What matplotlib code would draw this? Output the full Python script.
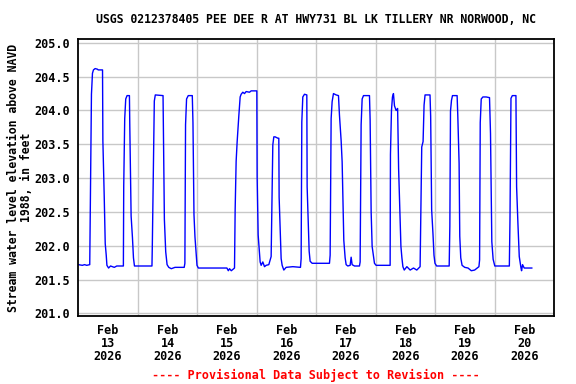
import matplotlib
matplotlib.use("Agg")
import matplotlib.pyplot as plt

# Hours since Feb 13 2026 00:00 and stream water level (ft)
hours = [0, 1.63, 2.5, 3.39, 4.6, 4.75, 5.29, 5.70, 6.10, 6.78, 7.73, 8.0, 9.76, 9.90,
         10.44, 10.85, 11.25, 11.53, 12.2, 13.0, 14.5, 15.5, 17.0, 18.17, 18.31, 18.71,
         19.12, 19.66, 20.61, 20.75, 21.29, 21.83, 22.24, 22.64, 29.7, 29.84, 30.24,
         30.65, 31.05, 34.17, 34.31, 34.71, 35.25, 35.8, 36.48, 37.5, 39, 42.71, 42.98,
         43.25, 43.66, 44.34, 45.97, 46.24, 46.65, 47.05, 47.6, 47.87, 48.41, 59.94,
         60.5, 61.0, 61.7, 63.0, 63.26, 63.66, 64.07, 64.74, 65.28, 65.68, 66.35, 67.03,
         67.7, 69.04, 69.71, 72.0, 72.13, 72.54, 72.94, 73.34, 73.75, 74.42, 75.1, 75.76,
         76.84, 77.78, 78.05, 78.45, 78.86, 79.39, 80.47, 80.87, 81.0, 81.41, 81.81,
         82.22, 82.89, 83.83, 86.52, 89.61, 89.88, 90.15, 90.55, 91.23, 92.17, 92.3,
         92.71, 93.11, 93.51, 94.32, 101.31, 101.58, 101.98, 102.38, 102.92, 104.0,
         104.94, 105.34, 106.02, 106.42, 107.09, 107.63, 108.03, 108.7, 109.65, 110.05,
         110.45, 111.4, 113.41, 113.68, 114.08, 114.49, 115.03, 117.45, 117.71, 118.12,
         118.52, 119.06, 119.46, 120.13, 125.78, 125.91, 126.32, 126.72, 127.12, 127.53,
         128.2, 128.8, 129.2, 129.73, 130.13, 130.53, 130.93, 131.47, 132.53, 133.87,
         135.2, 136.53, 137.87, 138.13, 138.53, 139.07, 139.47, 139.87, 141.87, 142.13,
         142.53, 143.07, 143.47, 143.87, 144.53, 149.6, 149.87, 150.13, 150.53, 150.93,
         152.8, 153.07, 153.6, 153.87, 154.27, 154.8, 155.87, 157.2, 158.53, 159.87,
         161.6, 161.87, 162.13, 162.53, 163.2, 164.53, 165.87, 166.27, 166.8, 167.33,
         168.0, 173.87, 174.13, 174.53, 175.07, 176.53, 176.8, 177.33, 177.87, 178.53,
         178.8, 179.2, 179.87, 182.93]
level = [201.72, 201.71, 201.72, 201.71, 201.72, 202.29, 204.24, 204.55, 204.60, 204.62,
         204.61, 204.60, 204.60, 203.55, 202.73, 202.03, 201.86, 201.71, 201.67, 201.70,
         201.68, 201.70, 201.70, 201.70, 202.88, 203.88, 204.17, 204.22, 204.22, 203.79,
         202.44, 202.12, 201.82, 201.70, 201.70, 201.99, 203.01, 204.14, 204.23, 204.22,
         203.71, 202.39, 201.91, 201.72, 201.68, 201.66, 201.68, 201.68, 201.74, 203.79,
         204.17, 204.22, 204.22, 203.82, 202.46, 202.13, 201.84, 201.71, 201.67, 201.67,
         201.63, 201.66, 201.63, 201.67, 202.53, 203.25, 203.54, 203.92, 204.20, 204.24,
         204.27, 204.25, 204.28, 204.27, 204.29, 204.29, 203.02, 202.16, 201.96, 201.76,
         201.71, 201.76, 201.69, 201.71, 201.72, 201.84, 202.55, 203.49, 203.61, 203.61,
         203.59, 203.59, 202.72, 202.26, 201.81, 201.71, 201.64, 201.68, 201.69, 201.68,
         201.81, 203.83, 204.20, 204.24, 204.23, 202.87, 202.37, 201.92, 201.77, 201.74,
         201.74, 201.86, 203.88, 204.13, 204.25, 204.23, 204.22, 203.93, 203.55, 203.24,
         202.08, 201.82, 201.72, 201.70, 201.71, 201.83, 201.72, 201.70, 201.70, 201.76,
         203.79, 204.17, 204.22, 204.22, 203.86, 202.50, 201.99, 201.84, 201.74, 201.71,
         201.71, 203.35, 204.00, 204.20, 204.25, 204.07, 204.00, 204.03, 203.14, 202.48,
         201.99, 201.82, 201.69, 201.64, 201.69, 201.64, 201.67, 201.64, 201.69, 202.38,
         203.46, 203.54, 204.08, 204.23, 204.23, 203.91, 202.53, 202.17, 201.86, 201.74,
         201.70, 201.70, 202.29, 203.99, 204.15, 204.22, 204.22, 203.93, 203.22, 202.14,
         201.82, 201.71, 201.68, 201.67, 201.63, 201.64, 201.69, 201.79, 203.82, 204.17,
         204.20, 204.20, 204.19, 203.66, 202.06, 201.80, 201.70, 201.70, 202.39, 204.18,
         204.22, 204.22, 202.87, 202.33, 201.84, 201.68, 201.63, 201.72, 201.67, 201.67]

day_labels = ["Feb\n13\n2026", "Feb\n14\n2026", "Feb\n15\n2026", "Feb\n16\n2026",
              "Feb\n17\n2026", "Feb\n18\n2026", "Feb\n19\n2026", "Feb\n20\n2026"]
y_ticks = [201.0, 201.5, 202.0, 202.5, 203.0, 203.5, 204.0, 204.5, 205.0]

title = "USGS 0212378405 PEE DEE R AT HWY731 BL LK TILLERY NR NORWOOD, NC"
ylabel = "Stream water level elevation above NAVD\n1988, in feet"
footer = "---- Provisional Data Subject to Revision ----"

font = dict(family="DejaVu Sans Mono", fontweight="bold", fontsize=8.5)

fig = plt.figure(figsize=(5.76, 3.84), dpi=100)
ax = fig.add_axes([0.136, 0.177, 0.8263, 0.7207])

ax.plot(hours, level, color="#0000ff", linewidth=1.0)

ax.set_xlim(0, 24 * len(day_labels))
ax.set_ylim(200.96, 205.053)

ax.set_xticks([24 * i for i in range(1, len(day_labels))], minor=True)
ax.set_xticks([12 + 24 * i for i in range(len(day_labels))])
ax.set_xticklabels(day_labels, **font, linespacing=1.0)
ax.set_yticks(y_ticks)
ax.set_yticklabels([f"{v:.1f}" for v in y_ticks], **font)

ax.tick_params(axis="both", which="both", length=0)
ax.tick_params(axis="x", pad=6)
ax.tick_params(axis="y", pad=6)

ax.grid(True, which="minor", axis="x", color="#c8c8c8", linewidth=1.0)
ax.grid(True, which="major", axis="y", color="#c8c8c8", linewidth=1.0)
ax.set_axisbelow(True)

for s in ax.spines.values():
    s.set_linewidth(1.3)
    s.set_color("black")

ax.set_title(title, family="DejaVu Sans Mono", fontweight="bold", fontsize=8.3, pad=12)
ax.set_ylabel(ylabel, family="DejaVu Sans Mono", fontweight="bold", fontsize=8.3,
              linespacing=1.0)
ax.yaxis.set_label_coords(-0.096, 0.5)
fig.text(0.548, 0.023, footer, color="red", ha="center", va="center", **font)

fig.savefig("out.png", dpi=100)
